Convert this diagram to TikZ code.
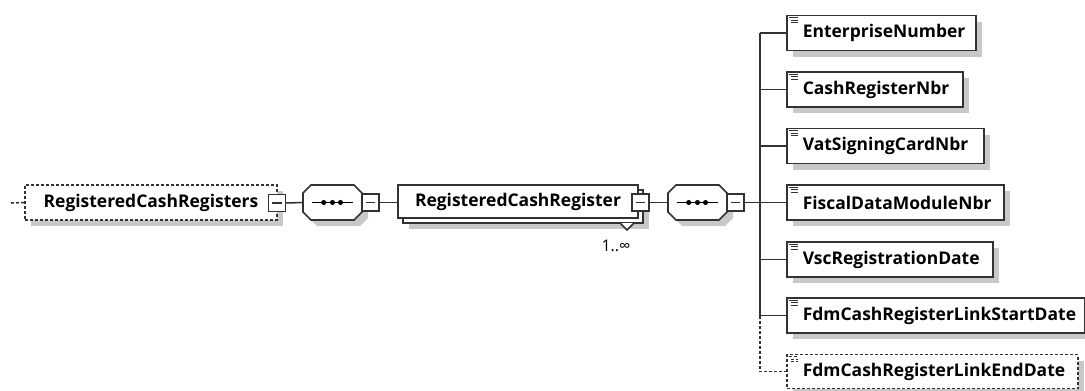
\documentclass[tikz,border=0pt]{standalone}
\usepackage{fontspec}
\setmainfont{Open Sans}
\usetikzlibrary{shadows}

\begin{document}
\begin{tikzpicture}[x=0.75pt,y=0.75pt,yscale=-1,xscale=1,
  line/.style={draw={rgb, 255:red, 50; green, 50; blue, 50 }, line width=1.15pt},
  box/.style={line, fill=white, minimum height=26.25pt, inner sep=0pt, font=\bfseries\fontsize{13.1}{15}\selectfont},
  shade/.style={drop shadow={shadow xshift=4.5pt, shadow yshift=-4.5pt, opacity=1, fill={rgb, 255:red, 200; green, 200; blue, 200 }}},
  elem/.style={box, shade, text width=#1, align=left, execute at begin node=\hspace*{12pt},
    path picture={
      \draw [line width=0.6pt] ([xshift=1.5pt,yshift=-1.5pt]path picture bounding box.north west) -- ++(6.75pt,0);
      \draw [line width=0.6pt] ([xshift=3pt,yshift=-3.4pt]path picture bounding box.north west) -- ++(5.25pt,0);
      \draw [line width=0.6pt] ([xshift=3pt,yshift=-5.3pt]path picture bounding box.north west) -- ++(5.25pt,0);
    }},
  opt/.style={dash pattern=on 2.25pt off 1.5pt},
  minus/.style={line, fill=white, minimum size=12.75pt, inner sep=0pt,
    path picture={\draw [line width=0.8pt] ([xshift=-3.4pt]path picture bounding box.center) -- ++(6.8pt,0);}},
  seq/.style={minimum width=44.25pt, minimum height=26.25pt, inner sep=0pt,
    path picture={
      \draw [line width=0.9pt] ([xshift=-15.4pt]path picture bounding box.center) -- ++(30.8pt,0);
      \foreach \d in {-6.6pt,0pt,6pt} \fill [black] ([xshift=\d]path picture bounding box.center) circle [radius=1.9pt];
    }}
]
  \useasboundingbox (0,0) rectangle (1085,390);

  % root element
  \node [box, opt, shade, minimum width=189pt] (root) at (151,202.5) {RegisteredCashRegisters};
  \node [minus] (rootm) at (277,203) {};
  \coordinate (stub) at (11,203);

  % first sequence
  \draw [line, fill=white, shade, shift={(332.5,202.5)}] (-21.5,-17.5) -- (21.5,-17.5) -- (29.5,-9.5) -- (29.5,9.5) -- (21.5,17.5) -- (-21.5,17.5) -- (-29.5,9.5) -- (-29.5,-9.5) -- cycle ;
  \node [seq] (seqA) at (332.5,202.5) {};
  \node [minus] (seqAm) at (370.5,202.5) {};

  % repeated element
  \node [box, shade, minimum width=180pt, minimum height=24.75pt] (itemb) at (523,206.5) {};
  \draw [line, fill=white] (620,223) -- (627,230) -- (634,223) ;
  \node [box, minimum width=180pt, minimum height=24.75pt] (item) at (518,201.5) {RegisteredCashRegister};
  \node [minus] (itemm) at (640.5,202.5) {};
  \node [font=\fontsize{12}{14}\selectfont, inner sep=0pt] (card) at (616,246) {1..∞};

  % second sequence
  \draw [line, fill=white, shade, shift={(697.5,202.5)}] (-21.5,-17.5) -- (21.5,-17.5) -- (29.5,-9.5) -- (29.5,9.5) -- (21.5,17.5) -- (-21.5,17.5) -- (-29.5,9.5) -- (-29.5,-9.5) -- cycle ;
  \node [seq] (seqB) at (697.5,202.5) {};
  \node [minus] (seqBm) at (735.5,202.5) {};
  \coordinate (bus) at (760,202.5);

  % child elements
  \node [elem=141.75pt, anchor=west] (ent) at (786,33) {EnterpriseNumber};
  \node [elem=132pt, anchor=west] (crn) at (786,89.5) {CashRegisterNbr};
  \node [elem=147.75pt, anchor=west] (vat) at (786,146) {VatSigningCardNbr};
  \node [elem=162.75pt, anchor=west] (fdm) at (786,202.5) {FiscalDataModuleNbr};
  \node [elem=154.5pt, anchor=west] (vsc) at (786,259.5) {VscRegistrationDate};
  \node [elem=223.5pt, anchor=west] (start) at (786,315.5) {FdmCashRegisterLinkStartDate};
  \node [elem=218.25pt, anchor=west, opt, minimum height=25.5pt] (end) at (786,371.5) {FdmCashRegisterLinkEndDate};

  % connectors
  \draw [line, opt] (stub) -- (root.west) ;
  \draw [line] (rootm.east) -- (seqA.west) ;
  \draw [line] (seqAm.east) -- (seqAm.east -| item.west) ;
  \draw [line] (itemm.east) -- (seqB.west) ;
  \draw [line] (seqBm.east) -- (bus) ;
  \draw [line] (ent.west -| bus) -- (start.west -| bus) ;
  \draw [line, opt] (start.west -| bus) |- (end.west) ;
  \foreach \n in {ent,crn,vat,fdm,vsc,start} \draw [line] (\n.west -| bus) -- (\n.west) ;

\end{tikzpicture}
\end{document}
